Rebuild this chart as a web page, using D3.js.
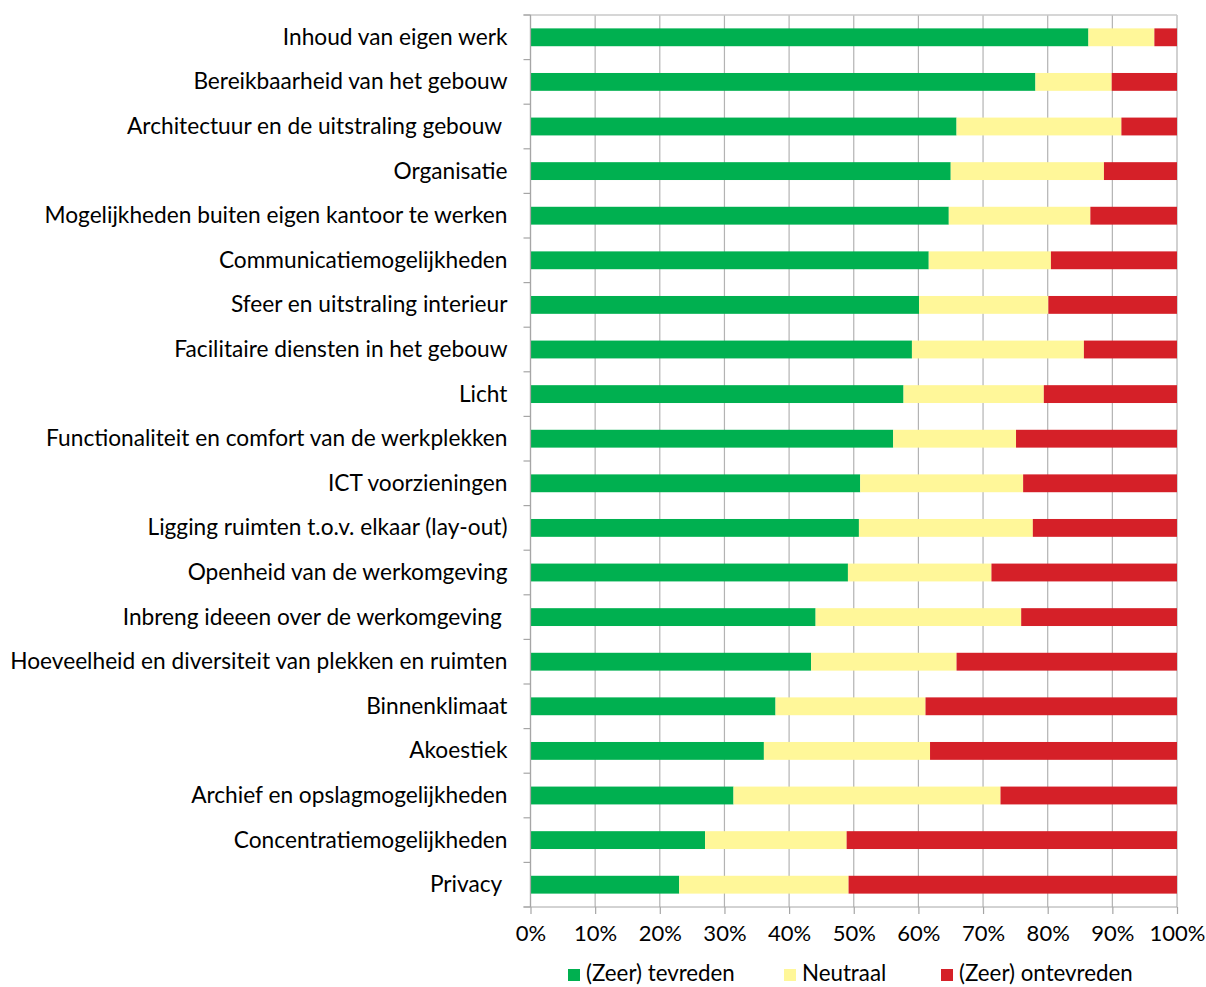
<!DOCTYPE html>
<html>
<head>
<meta charset="utf-8">
<script src="https://cdn.jsdelivr.net/npm/d3@7"></script>
<style>
  body { margin: 0; background: #fff; }
  text { font-family: Lato, "Open Sans", sans-serif; fill: #000; white-space: pre; }
</style>
</head>
<body>
<svg width="1206" height="987"></svg>
<script>
var categories = [
  "Inhoud van eigen werk",
  "Bereikbaarheid van het gebouw",
  "Architectuur en de uitstraling gebouw ",
  "Organisatie",
  "Mogelijkheden buiten eigen kantoor te werken",
  "Communicatiemogelijkheden",
  "Sfeer en uitstraling interieur",
  "Facilitaire diensten in het gebouw",
  "Licht",
  "Functionaliteit en comfort van de werkplekken",
  "ICT voorzieningen",
  "Ligging ruimten t.o.v. elkaar (lay-out)",
  "Openheid van de werkomgeving",
  "Inbreng ideeen over de werkomgeving ",
  "Hoeveelheid en diversiteit van plekken en ruimten",
  "Binnenklimaat",
  "Akoestiek",
  "Archief en opslagmogelijkheden",
  "Concentratiemogelijkheden",
  "Privacy "
];
var tevreden   = [86.3, 78.1, 65.9, 65.0, 64.7, 61.6, 60.1, 59.0, 57.7, 56.1, 51.0, 50.8, 49.1, 44.1, 43.4, 37.9, 36.1, 31.4, 27.0, 23.0];
var neutraal   = [10.2, 11.8, 25.5, 23.7, 21.9, 18.9, 20.0, 26.6, 21.7, 19.0, 25.2, 26.9, 22.2, 31.8, 22.5, 23.2, 25.7, 41.3, 21.9, 26.2];
var ontevreden = [ 3.5, 10.1,  8.6, 11.3, 13.4, 19.5, 19.9, 14.4, 20.6, 24.9, 23.8, 22.3, 28.7, 24.1, 34.1, 38.9, 38.2, 27.3, 51.1, 50.8];
var seriesNames = ["(Zeer) tevreden", "Neutraal", "(Zeer) ontevreden"];
var xTicks = [0, 10, 20, 30, 40, 50, 60, 70, 80, 90, 100];

var margin = {top: 15, right: 29, bottom: 80, left: 530.5},
    width = 1206 - margin.left - margin.right,
    height = 987 - margin.top - margin.bottom;

var col = d3.scaleOrdinal().domain(seriesNames).range(["#00b050", "#fff799", "#d52028"]);

var svg = d3.select("svg")
    .append("g").attr("transform", "translate(" + margin.left + "," + margin.top + ")");

var rows = categories.map(function(c, i) {
  return {cat: c, "(Zeer) tevreden": tevreden[i], "Neutraal": neutraal[i], "(Zeer) ontevreden": ontevreden[i]};
});
var stacked = d3.stack().keys(seriesNames)(rows);

var xScale = d3.scaleLinear().domain([0, 100]).range([0, width]);
var yScale = d3.scaleBand().domain(categories).range([0, height]).paddingInner(0.6).paddingOuter(0.3);

// grid
svg.append("g").selectAll("line")
  .data(xTicks).enter().append("line")
  .attr("x1", function(d) { return xScale(d); })
  .attr("x2", function(d) { return xScale(d); })
  .attr("y1", 0).attr("y2", height)
  .attr("stroke", "#b3b3b3").attr("stroke-width", 1.2);

svg.append("line")
  .attr("x1", -7).attr("x2", width).attr("y1", 0).attr("y2", 0)
  .attr("stroke", "#c8c8c8").attr("stroke-width", 1.5);

// bars
svg.append("g").selectAll("g")
  .data(stacked).enter().append("g")
  .attr("fill", function(d) { return col(d.key); })
  .selectAll("rect")
  .data(function(d) { return d; }).enter().append("rect")
  .attr("x", function(d) { return xScale(d[0]); })
  .attr("width", function(d) { return xScale(d[1]) - xScale(d[0]); })
  .attr("y", function(d) { return yScale(d.data.cat); })
  .attr("height", yScale.bandwidth());

// left axis with boundary ticks
var step = height / categories.length;
var leftAx = svg.append("g");
leftAx.append("line").attr("x1", 0).attr("x2", 0).attr("y1", 0).attr("y2", height)
  .attr("stroke", "#a6a6a6").attr("stroke-width", 1.2);
leftAx.selectAll(".bt")
  .data(d3.range(categories.length + 1)).enter().append("line")
  .attr("x1", -7).attr("x2", 0)
  .attr("y1", function(d) { return d * step; }).attr("y2", function(d) { return d * step; })
  .attr("stroke", "#a6a6a6").attr("stroke-width", 1.2);
leftAx.selectAll("text")
  .data(categories).enter().append("text")
  .attr("x", -23)
  .attr("y", function(d) { return yScale(d) + yScale.bandwidth() / 2; })
  .attr("dy", "0.33em")
  .attr("text-anchor", "end")
  .style("font-size", "22.7px")
  .text(function(d) { return d; });

// bottom axis
var xAxis = svg.append("g")
  .attr("transform", "translate(0," + height + ")")
  .call(d3.axisBottom(xScale).tickValues(xTicks).tickSize(7).tickPadding(11)
        .tickFormat(function(d) { return d + "%"; }));
xAxis.select(".domain").attr("stroke", "#a6a6a6").attr("d", "M-7,0H" + width);
xAxis.selectAll(".tick line").attr("stroke", "#a6a6a6").attr("stroke-width", 1.2);
xAxis.selectAll(".tick text").style("font-size", "22px").style("font-family", "Lato, sans-serif").attr("fill", "#000");

// legend
var legendX = [568, 784, 941];
var legend = d3.select("svg").append("g").attr("transform", "translate(0,969)");
legend.selectAll("rect")
  .data(seriesNames).enter().append("rect")
  .attr("x", function(d, i) { return legendX[i]; })
  .attr("y", 0).attr("width", 12).attr("height", 12)
  .attr("fill", function(d) { return col(d); });
legend.selectAll("text")
  .data(seriesNames).enter().append("text")
  .attr("x", function(d, i) { return legendX[i] + 18; })
  .attr("y", 12)
  .style("font-size", "22.3px")
  .text(function(d) { return d; });
</script>
</body>
</html>
